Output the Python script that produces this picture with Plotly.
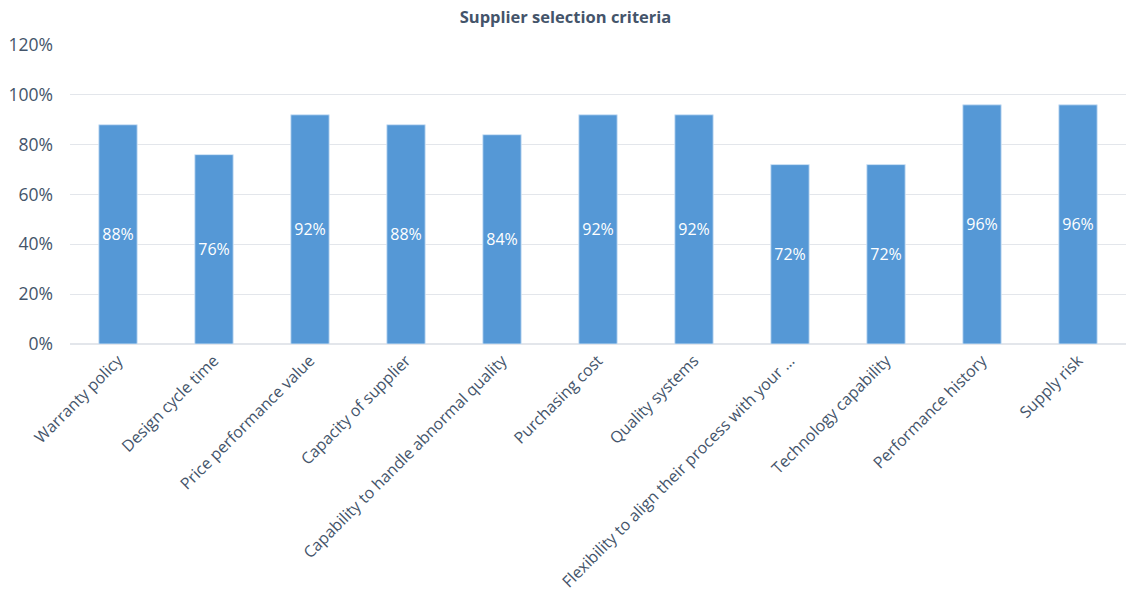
import plotly.graph_objects as go

categories = ["Warranty policy", "Design cycle time", "Price performance value",
              "Capacity of supplier", "Capability to handle abnormal quality",
              "Purchasing cost", "Quality systems",
              "Flexibility to align their process with your …",
              "Technology capability", "Performance history", "Supply risk"]
values = [0.88, 0.76, 0.92, 0.88, 0.84, 0.92, 0.92, 0.72, 0.72, 0.96, 0.96]
y_ticks = [0, 0.2, 0.4, 0.6, 0.8, 1.0, 1.2]
y_tick_labels = ["0%", "20%", "40%", "60%", "80%", "100%", "120%"]

fig = go.Figure(go.Bar(
    x=categories, y=values,
    text=[f"{round(v*100)}%" for v in values],
    textposition="inside", insidetextanchor="middle",
    textfont=dict(color="white", size=16, family="Open Sans"),
    marker=dict(color="#5598D6", line=dict(color="rgba(210,228,246,0.9)", width=1)),
    width=0.4,
))

fig.update_layout(
    width=1131, height=594,
    margin=dict(l=70, r=5, t=45, b=250),
    paper_bgcolor="white", plot_bgcolor="white",
    title=dict(text="<b>Supplier selection criteria</b>", x=0.5, xanchor="center",
               y=0.971, yanchor="middle",
               font=dict(size=16.5, color="#44546A", family="Open Sans")),
    font=dict(family="Open Sans", color="#44546A"),
    showlegend=False,
    uniformtext=dict(mode="show", minsize=16),
)
fig.update_xaxes(tickangle=-45, tickfont=dict(size=16, color="#44546A"),
                 automargin=False,
                 showgrid=False, showline=True, linecolor="#E3E6EB", linewidth=1,
                 ticks="")
fig.update_yaxes(range=[0, 1.2], tickvals=y_ticks, ticktext=y_tick_labels,
                 tickfont=dict(size=17.5, color="#44546A"),
                 ticklabelstandoff=16, automargin=False,
                 showgrid=True, gridcolor="#E3E6EB", gridwidth=1,
                 zeroline=True, zerolinecolor="#E3E6EB", showline=False, ticks="")

fig.write_html("out.html")
